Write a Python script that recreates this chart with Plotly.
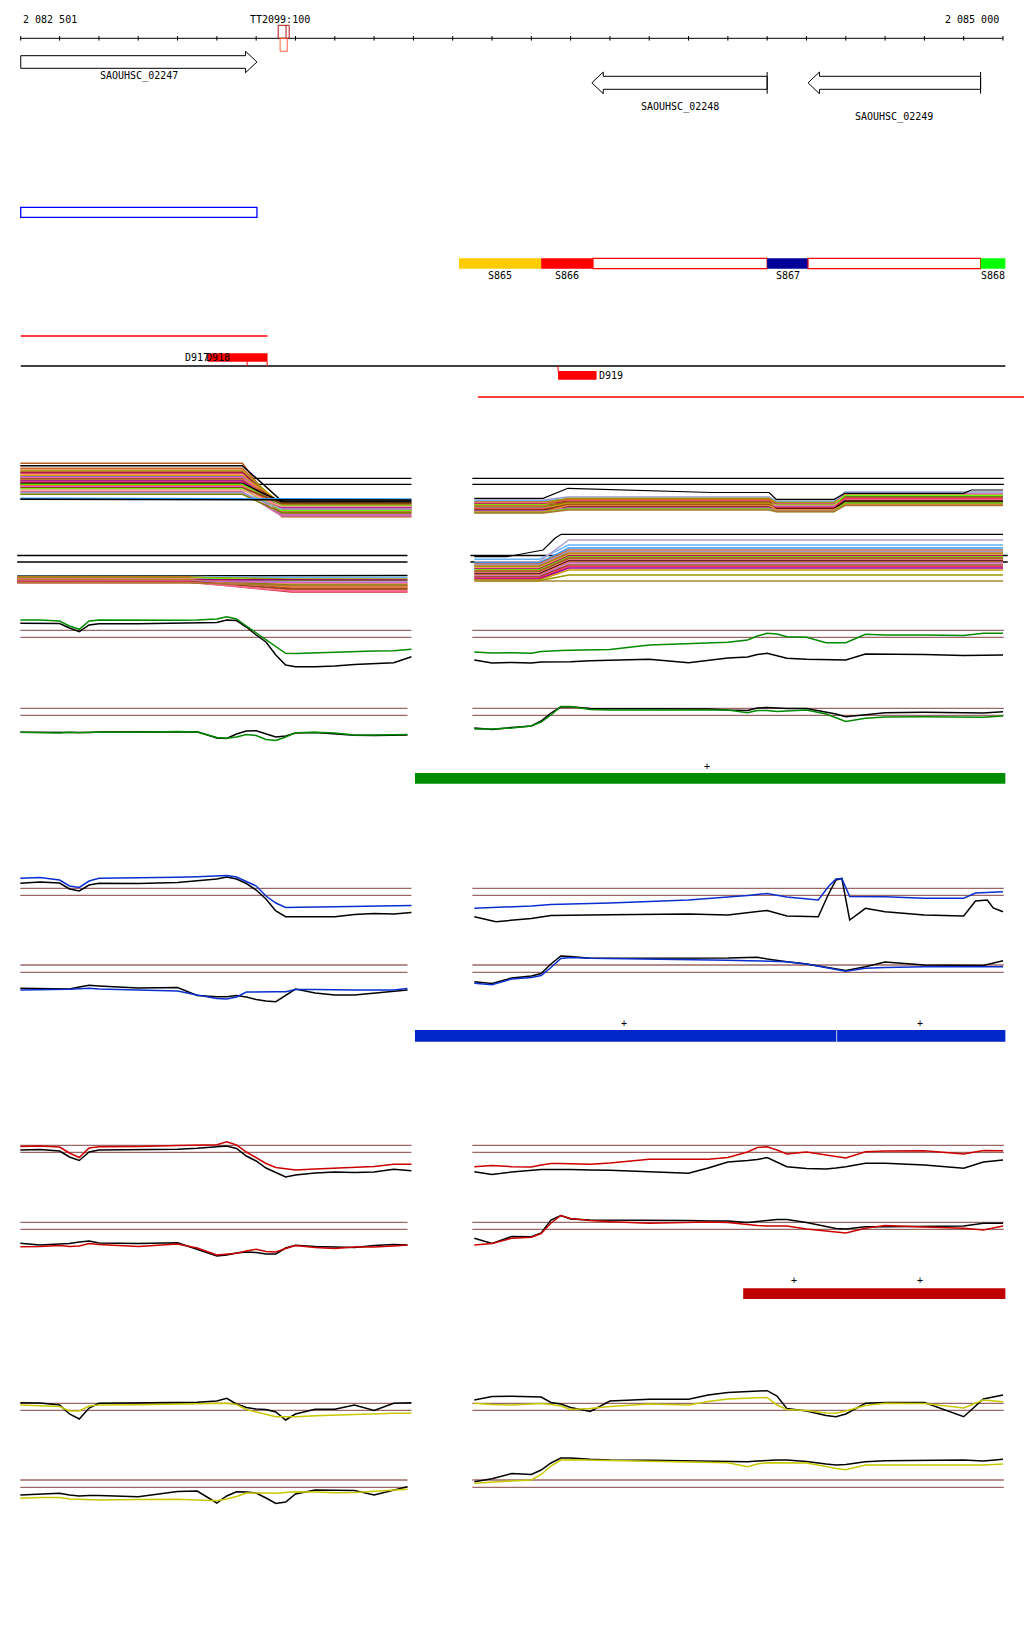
import plotly.graph_objects as go

# ======================= DATA =======================
# genomic ruler (bp)
RULER_START = 2082501
RULER_END = 2085000
RULER_TICKS = [2082501, 2082600, 2082700, 2082800, 2082900, 2083000, 2083100, 2083200,
               2083300, 2083400, 2083500, 2083600, 2083700, 2083800, 2083900, 2084000,
               2084100, 2084200, 2084300, 2084400, 2084500, 2084600, 2084700, 2084800,
               2084900, 2085000]
RULER_LABELS = ["2 082 501", "2 085 000"]

# genes
GENE_NAMES = ["SAOUHSC_02247", "SAOUHSC_02248", "SAOUHSC_02249"]
GENE_START = [2082501, 2083954, 2084504]
GENE_END = [2083102, 2084400, 2084943]
GENE_STRAND = ["+", "-", "-"]

# terminator
TT_NAME = "TT2099:100"
TT_START, TT_END, TT_SPLIT = 2083156, 2083184, 2083176
TT_PROBE_START, TT_PROBE_END = 2083161, 2083179

# blue box feature
BLUE_BOX = [2082501, 2083102]

# segments
SEG_NAMES = ["S865", "S866", "", "S867", "", "S868"]
SEG_START = [2083616, 2083825, 2083957, 2084400, 2084504, 2084943]
SEG_END = [2083825, 2083957, 2084400, 2084504, 2084943, 2085006]

# D features
RED_LINE_1 = [2082501, 2083129]
RED_LINE_2 = [2083664, 2085060]
BASE_LINE = [2082501, 2085006]
D_NAMES = ["D917", "D918", "D919"]
D918_BAR = [2082977, 2083129]
D918_TICKS = [2083077, 2083128]
D919_BAR = [2083868, 2083966]
D_LABEL_X = [2082914, 2082967, 2083966]

# transcript bars
GREEN_BARS = [[2083504, 2085006]]
GREEN_PLUS = [2084247]
BLUE_BARS = [[2083504, 2084576], [2084578, 2085006]]
BLUE_PLUS = [2084036, 2084788]
RED_BARS = [[2084339, 2085006]]
RED_PLUS = [2084468, 2084788]

# profile x grids (bp)
LEFT_X = [2082500, 2082550, 2082600, 2082625, 2082650, 2082675, 2082700, 2082800, 2082900,
          2082950, 2083000, 2083025, 2083050, 2083075, 2083100, 2083125, 2083150, 2083175,
          2083200, 2083250, 2083300, 2083350, 2083400, 2083450, 2083495]
LEFT_X_SHORT = LEFT_X[:-1] + [2083485]
RIGHT_X = [2083655, 2083700, 2083750, 2083800, 2083825, 2083850, 2083875, 2083900, 2083950,
           2084000, 2084100, 2084200, 2084250, 2084300, 2084350, 2084375, 2084400, 2084425,
           2084450, 2084500, 2084550, 2084575, 2084600, 2084650, 2084700, 2084800, 2084900,
           2084950, 2085000]
RIGHT_X_E = [2083655, 2083710, 2083800, 2083850, 2084000, 2084200, 2084300, 2084350, 2084400,
             2084450, 2084530, 2084555, 2084575, 2084590, 2084610, 2084650, 2084700, 2084800,
             2084900, 2084930, 2084960, 2084975, 2085000]
LEFT_SPAN = [2082500, 2083495]
LEFT_SPAN_SHORT = [2082500, 2083485]
RIGHT_SPAN = [2083650, 2085002]

# ---- multicolour rows A / B ----
A_THRESH = [51.7, 45.7]
A_LEFT_X = [2082500, 2083065, 2083165, 2083495]
A_LEFT_BEFORE = [66.7, 64.3, 61.7, 60, 59, 57.7, 56.7, 55.7, 54.3, 53.3, 52.3, 51, 50, 49, 47.7,
                 46.7, 45.7, 44.3, 43.3, 42.3, 41, 40, 38.3, 37.3, 35.7, 31.7, 30.7]
A_LEFT_AFTER = [13.3, 29, 22, 17, 25, 20, 24, 19, 27, 21.5, 23, 16, 26, 22.5, 18, 28, 24.5,
                20.5, 15, 26.5, 19.5, 23.5, 14, 21, 17.5, 31, 30]
A_RIGHT_X = [2083655, 2083830, 2083893, 2084405, 2084423, 2084570, 2084598, 2085000]
A_RIGHT_L0 = [30, 29, 28, 27.5, 27, 26, 25.5, 25, 24, 23.5, 23, 22, 21.5, 21, 20, 19.5, 19, 18, 17.5, 17]
A_RIGHT_L1 = [33, 31, 30, 31.5, 29, 28.5, 30.5, 27, 28, 26, 27.5, 25, 26.5, 24, 25.5, 23, 22, 24.5, 21, 20]
A_RIGHT_L2 = [29, 28, 27, 27.5, 26, 25.5, 24, 25, 23, 24.5, 22, 23.5, 21, 22.5, 20, 21.5, 19, 20.5, 18.5, 18.3]
A_RIGHT_L3 = [38, 36.5, 35, 34, 36, 33, 32, 34.5, 31, 30, 32.5, 29.5, 28.5, 31.5, 27.5, 29, 26.5, 25.5, 27, 24.5]
A_RIGHT_TOP_X = [2083655, 2083830, 2083893, 2084260, 2084405, 2084423, 2084570, 2084598, 2084900, 2084919, 2085000]
A_RIGHT_TOP_Y = [31.7, 31.7, 41.7, 37.5, 37.5, 30.7, 30.7, 36.7, 36.7, 40, 40]

B_THRESH = [44.5, 38]
B_LEFT_SPAN = [2082492, 2083485]
B_LEFT_X = [2082492, 2082930, 2083190, 2083485]
B_LEFT_L0 = [24, 23.5, 23.2, 22.8, 22.5, 22, 21.7, 21.3, 21, 20.5, 20.2, 19.8, 19.5, 19, 18.5, 18, 17.5, 17]
B_LEFT_L1 = [24.5, 22.5, 17, 21, 14, 19.5, 12, 18, 16, 20, 13, 15, 10, 17.5, 11, 8, 9, 14.5]
B_RIGHT_SPAN = [2083645, 2085012]
B_RIGHT_X = [2083655, 2083820, 2083895, 2085000]
B_RIGHT_L0 = [40.7, 38.3, 37, 36, 35, 34, 33, 32, 31, 30, 29, 28, 27, 26, 25, 24, 23, 22, 21, 20, 19.3, 19]
B_RIGHT_L1 = [55, 60, 52, 50, 48.5, 47, 46, 45, 44, 43, 42, 41, 40, 39, 38, 37, 35, 33.5, 32, 30, 25, 19]
B_RIGHT_TOP_X = [2083655, 2083738, 2083830, 2083860, 2083876, 2085000]
B_RIGHT_TOP_Y = [43.3, 43.3, 50, 61.7, 65.7, 65.7]

# ---- green rows C / D ----
C_THRESH = [49.7, 42.7]
C_LEFT_GREEN = [60, 60, 59, 54, 50.7, 59, 60, 59.7, 59.7, 60, 61, 63.3, 61, 54, 47, 40, 33, 26.7,
                26.5, 27.3, 28, 28.3, 29, 29.3, 30.7]
C_LEFT_BLACK = [56.7, 56.7, 56.5, 52, 48.3, 55, 56.3, 56.3, 56.7, 57, 57.5, 60, 59.5, 53, 45, 38,
                25, 15, 13.3, 13.3, 14, 15.5, 16.3, 17.3, 23.3]
C_RIGHT_GREEN = [28, 27, 27.3, 26.7, 28.5, 29.3, 29.5, 29.7, 30, 30.5, 35, 36.5, 37, 37.7, 40, 44,
                 46.7, 46, 43.3, 42.7, 37.3, 37.3, 37.3, 45.7, 45, 45, 44.5, 46.7, 46.7]
C_RIGHT_BLACK = [20, 17, 17.5, 17, 18, 18, 18, 18.3, 19.3, 20, 20.7, 17.3, 20, 22, 23, 25.5, 26.7,
                 24, 21.7, 20.7, 20.3, 20, 20, 26, 26, 25.5, 24.5, 25, 25]
D_THRESH = [41.7, 34.7]
D_LEFT_GREEN = [17.7, 17.3, 17, 17.7, 17.3, 17.7, 17.7, 17.7, 18.5, 18, 12.5, 11.7, 13, 15.5, 14.5,
                10.5, 9.5, 13, 17.3, 17.7, 17, 15, 15, 15, 15.5]
D_LEFT_BLACK = [17.7, 17.5, 17.5, 17.7, 17.7, 17.5, 18, 18, 18.5, 18.3, 12, 11.5, 16, 19, 19.3, 16,
                13, 14, 17, 17.5, 16, 14.7, 14.5, 14.5, 15]
D_RIGHT_GREEN = [21, 21, 22, 24, 28, 35, 43.5, 43.5, 40.5, 40, 40, 40, 40, 40, 37.3, 39.5, 39.5,
                 38.5, 39, 40, 36, 32, 28.5, 31.7, 33, 33.3, 32.5, 32.7, 34]
D_RIGHT_BLACK = [22, 20.5, 22.5, 24, 29, 37, 43, 43.3, 41.5, 41.5, 41.7, 41.5, 41, 40, 39.5, 42,
                 42.5, 42, 41.5, 41.5, 38, 36, 33.3, 35.5, 37.3, 37.7, 37.3, 37, 38.3]

# ---- blue rows E / F ----
E_THRESH = [41.7, 34.7]
E_LEFT_BLUE = [51.7, 52.5, 50, 44, 42.5, 49, 51.7, 52, 52.7, 53.3, 53.7, 54.5, 53, 48.5, 44, 34,
               27, 22.5, 22.5, 23, 23.3, 23.5, 23.5, 24, 24.5]
E_LEFT_BLACK = [46.7, 48, 47, 41, 39, 45, 46.7, 46.5, 47.5, 49, 51, 53, 51, 46.5, 40, 31, 19, 13.3,
                13.3, 13.3, 13.3, 15.5, 16.5, 16, 17.5]
E_RIGHT_BLUE = [21.7, 22.5, 24, 25.5, 27, 30, 32.5, 34.5, 36.5, 33, 30, 43, 51, 51.5, 33.5, 33.3,
                33.3, 31.7, 31.7, 37, 37.5, 38, 38.3]
E_RIGHT_BLACK = [13.3, 8.3, 11.5, 14.5, 15.3, 16, 15, 17.5, 19.5, 14, 13.3, 35, 50, 51.5, 10, 21.7,
                 18.3, 15, 14, 29, 30, 22, 18.3]
F_THRESH = [45, 37.7]
F_LEFT_BLUE = [20, 20, 20.3, 20.7, 21.3, 21.7, 21, 20, 19, 15, 11.5, 11, 13, 18, 18.3, 18.3, 18.3,
               18.3, 20.5, 20.5, 20, 20, 20, 20, 21.5]
F_LEFT_BLACK = [21.7, 21.3, 21, 21, 23, 24.7, 24, 22, 22.5, 14.5, 13.3, 13.3, 14.5, 13, 10.5, 9,
                8.3, 15, 21, 17, 15, 15, 17, 19, 20]
F_RIGHT_BLUE = [26.7, 25.3, 31, 32.5, 34.5, 42.5, 51.5, 52.5, 51.7, 51.5, 50.7, 50.3, 50, 49.7,
                49.3, 49, 48.7, 48.3, 48.3, 46, 42.5, 40, 38.7, 41.7, 42.5, 43.3, 43.3, 43.3, 43.3]
F_RIGHT_BLACK = [28.3, 26.5, 32, 34, 36.5, 46, 54, 53.5, 51.7, 51.7, 51.7, 51.7, 51.7, 52, 52.5,
                 52.7, 51, 49.5, 48.3, 46, 42.5, 40.5, 39.5, 43.3, 48, 45, 44.5, 44.5, 49.3]

# ---- red rows G / H ----
G_THRESH = [44.7, 37.7]
G_LEFT_RED = [43.5, 44, 43, 37, 32.5, 42, 43.3, 43.5, 44.5, 45, 45.3, 48.3, 45, 38, 32.5, 26.5,
              22.5, 21, 20, 21, 22, 22.5, 23.5, 25.7, 25.7]
G_LEFT_BLACK = [40, 40.5, 39, 33, 29.5, 38, 40, 40, 40.7, 41.7, 43, 44, 41.5, 34, 29, 22, 17.5, 13,
                15, 17, 18, 17.5, 18, 20.7, 19.3]
G_RIGHT_RED = [23.3, 24.5, 23.3, 23, 25, 26.5, 26.5, 26, 25.7, 27, 30.7, 30.7, 30.7, 32.5, 38, 42.5,
               43.3, 40, 36, 38, 35, 33.5, 32, 38.3, 39, 39.3, 36, 39.5, 39.3]
G_RIGHT_BLACK = [18.3, 15.5, 18, 20, 20.5, 20.5, 20.7, 20.5, 20, 19.7, 18.3, 16.7, 22, 28, 29.5,
                 30.5, 32.5, 28, 23.3, 21.5, 21, 22, 23.3, 26.7, 26.7, 25, 21.7, 28, 30]
H_THRESH = [47.7, 40.7]
H_LEFT_RED = [23.3, 23.5, 24.5, 23.5, 24, 26.5, 25.5, 23.5, 26, 22, 15, 15.5, 16.7, 19, 20.7, 18.5,
              18, 21.5, 24.5, 22.5, 21.5, 23, 23, 24, 25]
H_LEFT_BLACK = [26.7, 25, 26, 26.5, 28, 29, 27, 26.5, 27.3, 21, 14, 15, 17, 18, 17.5, 16, 16, 22,
                24.7, 23.5, 23.3, 22.5, 24.5, 25.5, 25]
H_RIGHT_RED = [25, 26.5, 31.7, 32.7, 36.5, 47, 54.5, 51.5, 49.5, 48.3, 46.7, 47.3, 48, 47.5, 45,
               44.5, 44, 44, 44, 41, 39, 37.5, 37, 41.7, 44.5, 43, 41.7, 40, 44]
H_RIGHT_BLACK = [31.7, 26.5, 33.5, 33.3, 37, 50, 54.5, 51, 50, 50, 50, 49.5, 49, 49, 47.5, 48.5,
                 49.5, 50.5, 50.5, 47.5, 43.5, 41.5, 41, 43.3, 43.3, 43.3, 44, 46.7, 46.7]

# ---- yellow rows I / J ----
I_THRESH = [26.7, 19.7]
I_LEFT_YELLOW = [25, 24.5, 23.5, 19, 19, 24, 25, 25.3, 25.7, 26, 26.5, 26.7, 25.5, 20.5, 18, 15.5,
                 13.3, 13.3, 13.3, 14.3, 15, 15.5, 16, 16.7, 16.7]
I_LEFT_BLACK = [27.3, 27, 25, 16, 11, 22, 26.7, 27.3, 27.5, 27.7, 29, 31.7, 26, 22.5, 21, 20.5, 18,
                10, 16, 20.7, 20.7, 25, 19.5, 26.7, 27.3]
I_RIGHT_YELLOW = [26.7, 25.5, 25, 26.5, 26.5, 25.5, 24, 20.5, 21.5, 23.5, 26, 25, 28.5, 31, 32,
                  32.3, 32.5, 25, 20.5, 19.5, 17, 16.7, 19, 24.5, 26.7, 26.5, 22, 30, 28.3]
I_RIGHT_BLACK = [30, 33.5, 33.7, 33.5, 33, 27.5, 26, 22.5, 18.5, 29, 30.7, 30.7, 35, 37.5, 38.3, 39,
                 39.3, 34, 21.5, 19, 14.5, 13.3, 16, 26.7, 27.5, 27.5, 13.3, 31, 35]
J_THRESH = [30, 22.7]
J_LEFT_YELLOW = [11.7, 12.5, 12.5, 11, 10.7, 10.5, 10, 10.5, 10.7, 10, 9.3, 11, 13.5, 17, 17.3, 17,
                 16.7, 17.5, 18.3, 18, 17.3, 17.5, 18.5, 20, 20.7]
J_LEFT_BLACK = [15, 16, 16.7, 15, 14, 14.5, 14.5, 13.3, 18.5, 19, 7, 14, 18.3, 18, 17, 12, 6.5, 8,
                16, 20, 20, 19.5, 15, 20, 23.3]
J_RIGHT_YELLOW = [26.7, 28, 29, 30, 35.5, 44, 50, 50.3, 50, 49.7, 48.7, 48, 47.7, 47.3, 43.3, 46,
                  47.3, 47.3, 47.3, 47, 43.5, 41.5, 40.3, 45, 45, 45, 45, 45, 46]
J_RIGHT_BLACK = [28.3, 31.2, 36.5, 35.5, 40, 47, 52, 52, 50.7, 50, 49.7, 49.3, 49.3, 49, 48.3, 49,
                 49.7, 50, 50, 48.5, 46, 45, 45.5, 48.3, 49.3, 49.3, 50, 49, 50.7]

# ======================= STYLE =======================
FONT = "DejaVu Sans Mono, monospace"
SEG_COLORS = ["#ffcc00", "#ff0000", "#ffffff", "#000099", "#ffffff", "#00ff00"]
BROWN = "#9b6767"
A_LEFT_COLORS = ["#b85c1e", "#000000", "#cc6633", "#e8833a", "#999900", "#cc3333", "#990066",
                 "#ff9966", "#cc9900", "#9966cc", "#ff6699", "#996633", "#d2691e", "#990099",
                 "#ff3366", "#000000", "#66cc00", "#ff6633", "#cc66cc", "#8b4513", "#66ff00",
                 "#ff9999", "#cc6699", "#9999cc", "#808000", "#3399ff", "#000000"]
A_RIGHT_COLORS = ["#9999cc", "#66b3ff", "#cc6633", "#999900", "#ff6699", "#990066", "#d2691e",
                  "#66ff00", "#cc3333", "#ff9966", "#808000", "#9966cc", "#cc9900", "#ff3366",
                  "#8b4513", "#330000", "#cc66cc", "#e8833a", "#66cc00", "#aa7733"]
B_LEFT_COLORS = ["#000000", "#66b3ff", "#cc6633", "#999900", "#d2691e", "#66ff00", "#cc3333",
                 "#9999cc", "#ff9966", "#990066", "#e8833a", "#808000", "#ff6633", "#cc66cc",
                 "#8b4513", "#cc3333", "#ff6699", "#aa7733"]
B_RIGHT_COLORS = ["#66b3ff", "#b3a0d0", "#3399ff", "#cc6633", "#9999cc", "#d2691e", "#999900",
                  "#ff9966", "#990066", "#66ff00", "#cc3333", "#808000", "#ff6699", "#330000",
                  "#e8833a", "#cc66cc", "#8b4513", "#ff3366", "#990099", "#cc9900", "#999900",
                  "#aa8833"]
GREEN_LINE, GREEN_BAR = "#008a00", "#008c00"
BLUE_LINE, BLUE_BAR = "#0a2fd0", "#0026c9"
RED_LINE, RED_BAR = "#cc0000", "#c00000"
YELLOW_LINE = "#c8c800"
MULTI_W = 1.5
PROFILE_W = 1.5

W, H = 1024, 1640
X_RANGE = [2082448.3, 2085053.4]

# row layout: axis id, top px, bottom px, value offset
ROWS = {
    "A": ("y", 452, 525, 530),
    "B": ("y2", 525, 600, 600),
    "C": ("y3", 605, 675, 680),
    "D": ("y4", 695, 750, 750),
    "E": ("y5", 865, 930, 930),
    "F": ("y6", 945, 1010, 1010),
    "G": ("y7", 1130, 1190, 1190),
    "H": ("y8", 1205, 1270, 1270),
    "I": ("y9", 1380, 1430, 1430),
    "J": ("y10", 1445, 1510, 1510),
}


def py(px):
    return 1 - px / H


fig = go.Figure()
shapes = []
annotations = []


def add_line(x, y, row, color, width=1.3):
    fig.add_trace(go.Scatter(x=x, y=y, xaxis="x", yaxis=ROWS[row][0], mode="lines",
                             line=dict(color=color, width=width), hoverinfo="skip",
                             showlegend=False))


def hline(x0, x1, ypx, color, width=1):
    shapes.append(dict(type="line", xref="x", yref="paper", x0=x0, x1=x1, y0=py(ypx), y1=py(ypx),
                       line=dict(color=color, width=width)))


def vline(x, y0px, y1px, color, width=1):
    shapes.append(dict(type="line", xref="x", yref="paper", x0=x, x1=x, y0=py(y0px), y1=py(y1px),
                       line=dict(color=color, width=width)))


def rect(x0, x1, top, bot, fill, line_color=None, width=1):
    shapes.append(dict(type="rect", xref="x", yref="paper", x0=x0, x1=x1, y0=py(bot), y1=py(top),
                       fillcolor=fill,
                       line=dict(color=line_color if line_color else fill,
                                 width=width if line_color else 0)))


def text(x, ypx, s, anchor="center", size=10):
    annotations.append(dict(x=x, y=py(ypx), xref="x", yref="paper", text=s, showarrow=False,
                            xanchor=anchor, yanchor="middle",
                            font=dict(family=FONT, size=size, color="#000000")))


# ---------------- ruler ----------------
RULER_Y = 38.3
hline(RULER_START, RULER_END, RULER_Y, "#000000", 1)
for t in RULER_TICKS:
    vline(t, RULER_Y - 2.3, RULER_Y + 2.3, "#000000", 1)
text(RULER_START, 19, RULER_LABELS[0], "left")
text(RULER_END - 4, 19, RULER_LABELS[1], "right")

# terminator
rect(TT_START, TT_END, 25.3, 38.3, "rgba(0,0,0,0)", "#b01010", 1)
vline(TT_SPLIT, 25.3, 38.3, "#b01010", 1)
rect(TT_PROBE_START, TT_PROBE_END, 38.3, 51.3, "rgba(0,0,0,0)", "#ff6040", 1)
text((TT_START + TT_END) / 2 - 10, 19, TT_NAME)

# ---------------- genes ----------------
GENE_GEOM = [(55.7, 68.3, 51.3, 72.7, 76.3), (76.3, 89.3, 72.0, 93.7, 107),
             (76.3, 89.3, 72.0, 93.7, 117)]
HEAD = 29
for name, s, e, strand, (bt, bb, ht, hb, ly) in zip(GENE_NAMES, GENE_START, GENE_END,
                                                    GENE_STRAND, GENE_GEOM):
    mid = (bt + bb) / 2
    if strand == "+":
        h = e - HEAD
        pts = [(s, bt), (h, bt), (h, ht), (e, mid), (h, hb), (h, bb), (s, bb)]
    else:
        h = s + HEAD
        pts = [(s, mid), (h, ht), (h, bt), (e, bt), (e, bb), (h, bb), (h, hb)]
    path = "M " + " L ".join(f"{x},{py(y)}" for x, y in pts) + " Z"
    shapes.append(dict(type="path", xref="x", yref="paper", path=path, fillcolor="#ffffff",
                       line=dict(color="#000000", width=1)))
    if strand == "-":
        vline(e, ht, hb, "#000000", 1)
    text((s + e) / 2, ly, name)

# ---------------- blue box ----------------
rect(BLUE_BOX[0], BLUE_BOX[1], 207.3, 217.3, "rgba(0,0,0,0)", "#0000ff", 1.3)

# ---------------- segments ----------------
for nm, s, e, c in zip(SEG_NAMES, SEG_START, SEG_END, SEG_COLORS):
    if c == "#ffffff":
        rect(s, e, 258.3, 268.7, c, "#ff0000", 1.2)
    else:
        rect(s, e, 258.3, 268.7, c)
    if nm:
        text((s + e) / 2, 275.5, nm)

# ---------------- D features ----------------
hline(RED_LINE_1[0], RED_LINE_1[1], 336, "#ff0000", 1.3)
hline(BASE_LINE[0], BASE_LINE[1], 366, "#000000", 1.3)
rect(D918_BAR[0], D918_BAR[1], 353.3, 361.7, "#ff0000")
for t in D918_TICKS:
    vline(t, 361.7, 366, "#ff0000", 1)
rect(D919_BAR[0], D919_BAR[1], 371, 379.7, "#ff0000")
vline(D919_BAR[0], 366, 371, "#ff0000", 1)
text(D_LABEL_X[0], 358, D_NAMES[0], "left")
text(D_LABEL_X[1], 358, D_NAMES[1], "left")
text(D_LABEL_X[2], 375.5, D_NAMES[2], "left")
hline(RED_LINE_2[0], RED_LINE_2[1], 397, "#ff0000", 1.3)

# ---------------- transcript bars ----------------
for s, e in GREEN_BARS:
    rect(s, e, 773, 783.7, GREEN_BAR)
for p in GREEN_PLUS:
    text(p, 766, "+")
for s, e in BLUE_BARS:
    rect(s, e, 1030, 1041.7, BLUE_BAR)
for p in BLUE_PLUS:
    text(p, 1023, "+")
for s, e in RED_BARS:
    rect(s, e, 1288.3, 1299, RED_BAR)
for p in RED_PLUS:
    text(p, 1280.7, "+")

# ---------------- multicolour rows ----------------
for v in A_THRESH:
    add_line(LEFT_SPAN, [v, v], "A", "#000000", 1.3)
    add_line(RIGHT_SPAN, [v, v], "A", "#000000", 1.3)
for b, a, c in zip(A_LEFT_BEFORE, A_LEFT_AFTER, A_LEFT_COLORS):
    add_line(A_LEFT_X, [b, b, a, a], "A", c, MULTI_W)
for l0, l1, l2, l3, c in zip(A_RIGHT_L0, A_RIGHT_L1, A_RIGHT_L2, A_RIGHT_L3, A_RIGHT_COLORS):
    add_line(A_RIGHT_X, [l0, l0, l1, l1, l2, l2, l3, l3], "A", c, MULTI_W)
add_line(A_RIGHT_TOP_X, A_RIGHT_TOP_Y, "A", "#000000", 1.2)

for v in B_THRESH:
    add_line(B_LEFT_SPAN, [v, v], "B", "#000000", 1.3)
    add_line(B_RIGHT_SPAN, [v, v], "B", "#000000", 1.3)
for l0, l1, c in zip(B_LEFT_L0, B_LEFT_L1, B_LEFT_COLORS):
    add_line(B_LEFT_X, [l0, l0, l1, l1], "B", c, MULTI_W)
for l0, l1, c in zip(B_RIGHT_L0, B_RIGHT_L1, B_RIGHT_COLORS):
    add_line(B_RIGHT_X, [l0, l0, l1, l1], "B", c, MULTI_W)
add_line(B_RIGHT_TOP_X, B_RIGHT_TOP_Y, "B", "#000000", 1.2)

# ---------------- profile rows ----------------
PROFILE_ROWS = [
    ("C", C_THRESH, LEFT_SPAN, LEFT_X, C_LEFT_GREEN, C_LEFT_BLACK, RIGHT_X, C_RIGHT_GREEN, C_RIGHT_BLACK, GREEN_LINE),
    ("D", D_THRESH, LEFT_SPAN_SHORT, LEFT_X_SHORT, D_LEFT_GREEN, D_LEFT_BLACK, RIGHT_X, D_RIGHT_GREEN, D_RIGHT_BLACK, GREEN_LINE),
    ("E", E_THRESH, LEFT_SPAN, LEFT_X, E_LEFT_BLUE, E_LEFT_BLACK, RIGHT_X_E, E_RIGHT_BLUE, E_RIGHT_BLACK, BLUE_LINE),
    ("F", F_THRESH, LEFT_SPAN_SHORT, LEFT_X_SHORT, F_LEFT_BLUE, F_LEFT_BLACK, RIGHT_X, F_RIGHT_BLUE, F_RIGHT_BLACK, BLUE_LINE),
    ("G", G_THRESH, LEFT_SPAN, LEFT_X, G_LEFT_RED, G_LEFT_BLACK, RIGHT_X, G_RIGHT_RED, G_RIGHT_BLACK, RED_LINE),
    ("H", H_THRESH, LEFT_SPAN_SHORT, LEFT_X_SHORT, H_LEFT_RED, H_LEFT_BLACK, RIGHT_X, H_RIGHT_RED, H_RIGHT_BLACK, RED_LINE),
    ("I", I_THRESH, LEFT_SPAN, LEFT_X, I_LEFT_YELLOW, I_LEFT_BLACK, RIGHT_X, I_RIGHT_YELLOW, I_RIGHT_BLACK, YELLOW_LINE),
    ("J", J_THRESH, LEFT_SPAN_SHORT, LEFT_X_SHORT, J_LEFT_YELLOW, J_LEFT_BLACK, RIGHT_X, J_RIGHT_YELLOW, J_RIGHT_BLACK, YELLOW_LINE),
]
for row, thr, lspan, lx, lcol, lblk, rx, rcol, rblk, color in PROFILE_ROWS:
    for v in thr:
        add_line(lspan, [v, v], row, BROWN, 1.3)
        add_line(RIGHT_SPAN, [v, v], row, BROWN, 1.3)
    add_line(lx, lblk, row, "#000000", PROFILE_W)
    add_line(lx, lcol, row, color, PROFILE_W)
    add_line(rx, rblk, row, "#000000", PROFILE_W)
    add_line(rx, rcol, row, color, PROFILE_W)

# ---------------- layout ----------------
layout = dict(
    width=W, height=H, autosize=False,
    margin=dict(l=0, r=0, t=0, b=0, pad=0),
    paper_bgcolor="#ffffff", plot_bgcolor="#ffffff",
    showlegend=False,
    xaxis=dict(range=X_RANGE, domain=[0, 1], visible=False, fixedrange=True, anchor="y"),
    shapes=shapes, annotations=annotations,
)
for key, (axid, top, bot, off) in ROWS.items():
    name = "yaxis" if axid == "y" else "yaxis" + axid[1:]
    layout[name] = dict(domain=[1 - bot / H, 1 - top / H], range=[off - bot, off - top],
                        visible=False, fixedrange=True, anchor="x")
fig.update_layout(**layout)

fig.write_html("out.html", config={"displayModeBar": False},
               post_script="document.body.style.margin='0px';")
